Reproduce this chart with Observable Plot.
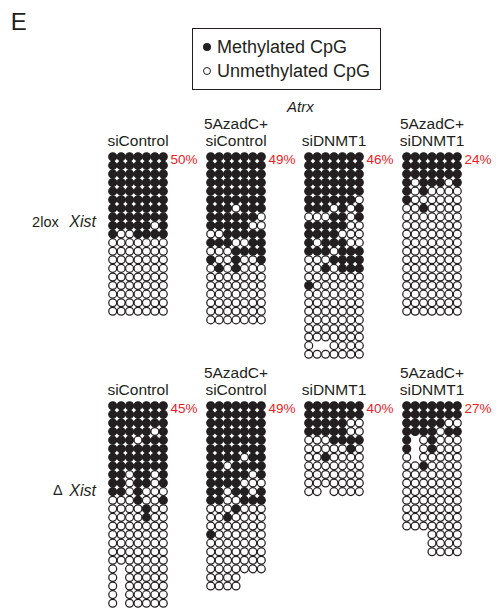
<!DOCTYPE html>
<html><head><meta charset="utf-8">
<script src="https://cdn.jsdelivr.net/npm/d3@7"></script>
<script src="https://cdn.jsdelivr.net/npm/@observablehq/plot@0.6"></script>
<style>
body{margin:0;background:#fff;font-family:"Liberation Sans",Arial,sans-serif;color:#231f20}
#fig{position:relative;width:501px;height:609px;overflow:hidden}
#head{position:relative;height:100px}
#chart svg{display:block}
.abs{position:absolute;white-space:nowrap}
#E{left:10.8px;top:10.4px;font-size:24px;line-height:24px}
#legend{left:192px;top:28px;width:189px;height:62px;border:1px solid #231f20;box-sizing:border-box}
.lg{position:absolute;left:24px;font-size:18px;line-height:18px}
.bul{position:absolute;left:10px;width:8px;height:8px;border-radius:50%;box-sizing:border-box}
#atrx{left:287px;top:99px;font-size:15px;line-height:15px;font-style:italic;z-index:2}
</style></head>
<body>
<div id="fig">
  <div id="head">
    <div id="E" class="abs">E</div>
    <div id="legend" class="abs">
      <div class="bul" style="top:13.7px;background:#231f20"></div>
      <div class="lg" style="top:8.9px">Methylated CpG</div>
      <div class="bul" style="top:38px;border:1px solid #231f20;background:#fff"></div>
      <div class="lg" style="top:33.3px">Unmethylated CpG</div>
    </div>
    <div id="atrx" class="abs">Atrx</div>
  </div>
  <div id="chart"></div>
</div>
<script>
// ---- data ----
const conditions = ["siControl", "5AzadC+\nsiControl", "siDNMT1", "5AzadC+\nsiDNMT1"];
const genotypes = ["2lox Xist", "Δ Xist"];
const rowLabelPrefix = ["2lox", "Δ"];
const rowLabelGene = "Xist";
const percents2lox = ["50%", "49%", "46%", "24%"];
const percentsDelta = ["45%", "49%", "40%", "27%"];

// 1 = methylated CpG, 0 = unmethylated CpG, - = no data
const lox_siControl = [
  "1111111","1111111","1111111","1111111","1111111","1111111","1111111","1111111",
  "1111101","1001111",
  "0000000","0000000","0000000","0000000","0000000","0000000","0000000","0000000","0000000"
];
const lox_aza_siControl = [
  "1111111","1111111","1111111","1111111","1111111","1111111",
  "1110111","1111110","1111100","0011111","1110011","0001111","1001001","0101000",
  "0000000","0000000","0000000","0000000","0000000","0000000"
];
const lox_siDNMT1 = [
  "1111111","1111111","1111111","1111111","1111111",
  "1111110","1110101","0001101","1111100","1111000","1011100","1110111","0001111","0010111",
  "0000000","1000000",
  "0000000","0000000","0000000","0000000","0000000","0000000","0--0000","0000000"
];
const lox_aza_siDNMT1 = [
  "1111111","1111111","1111111",
  "1011101","1010000","1000000","0010000",
  "0000000","0000000","0000000","0000000","0000000","0000000","0000000","0000000",
  "0000000","0000000","0000000","0000000"
];
const del_siControl = [
  "1111111","1111111","1111111","1111101","1110111","1111111","1111111","1111111",
  "1101101","1101101","1101000","0001001","0000100","0000100",
  "0000000","0000000","0000000","0000000","0000000",
  "0-00000","0-00000","0-00000","0-00000","0-00000"
];
const del_aza_siControl = [
  "1111111","1111111","1111111","1111111","1111111","1111111",
  "1111011","1101111","1111101","1111000","1101101","1100111","0001000","0010000",
  "0000000","1000000","0000000","0000000","0000000","0000000",
  "0000---","0000---"
];
const del_siDNMT1 = [
  "1111111","1111111","1111100","1111100","0001111","0000010","0010000",
  "0000000","0000000","0000000","00-0000"
];
const del_aza_siDNMT1 = [
  "1111111","1111111","1111100","1111011","1-01000","1-01000","0-00000","0010000",
  "0000000","0000000","0000000","0000000","0000000","0000000","0000000",
  "---0000","---0000","---0000"
];

const panels = [
  [lox_siControl, lox_aza_siControl, lox_siDNMT1, lox_aza_siDNMT1],
  [del_siControl, del_aza_siControl, del_siDNMT1, del_aza_siDNMT1]
];
const percents = [percents2lox, percentsDelta];

// ---- tables ----
const cells = [];
panels.forEach((row, gi) => row.forEach((rows, ci) => rows.forEach((s, ri) => {
  [...s].forEach((ch, k) => {
    if (ch === "-") return;
    cells.push({geno: genotypes[gi], cond: conditions[ci], row: ri + 1, col: k + 1, m: ch === "1"});
  });
})));
const panelInfo = [];
genotypes.forEach((g, gi) => conditions.forEach((c, ci) => panelInfo.push({geno: g, cond: c, pct: percents[gi][ci]})));
const rowLabels = genotypes.map((g, i) => ({geno: g, cond: conditions[0], pre: rowLabelPrefix[i], gene: rowLabelGene, i}));

const ink = "#231f20";
const red = "#ed1c24";
const labelY = d => d.i === 0 ? 8.6 : 10.9;

const chart = Plot.plot({
  width: 501, height: 509,
  marginLeft: 107.5, marginRight: 38.5, marginTop: 51.7, marginBottom: 1.6,
  x: {domain: [0.5, 7.5], axis: null},
  y: {domain: [0.5, 24.5], reverse: true, axis: null},
  fx: {domain: conditions, paddingInner: 0.396, paddingOuter: 0, axis: null},
  fy: {domain: genotypes, paddingInner: 0.172, paddingOuter: 0, axis: null},
  style: {fontFamily: "'Liberation Sans', Arial, sans-serif", color: ink, background: "white"},
  marks: [
    Plot.dot(cells.filter(d => !d.m), {fx: "cond", fy: "geno", x: "col", y: "row", r: 3.95, fill: "white", stroke: ink, strokeWidth: 1.25}),
    Plot.dot(cells.filter(d => d.m), {fx: "cond", fy: "geno", x: "col", y: "row", r: 3.95, fill: ink, stroke: ink, strokeWidth: 1.25}),
    Plot.text(panelInfo, {fx: "cond", fy: "geno", text: "cond", frameAnchor: "top", lineAnchor: "bottom", dy: -6.5, fontSize: 15.5, lineHeight: 1.12, fill: ink}),
    Plot.text(panelInfo, {fx: "cond", fy: "geno", text: "pct", frameAnchor: "top-right", textAnchor: "start", lineAnchor: "middle", dx: 3, dy: 6.8, fontSize: 13.5, fill: red}),
    Plot.text(rowLabels, {fx: "cond", fy: "geno", y: labelY, text: "pre", frameAnchor: "left", textAnchor: "end", dx: -49.8, fontSize: 14.5, fill: ink, filter: d => d.i === 0}),
    Plot.text(rowLabels, {fx: "cond", fy: "geno", y: labelY, text: "pre", frameAnchor: "left", textAnchor: "end", dx: -45.8, fontSize: 14.5, fill: ink, filter: d => d.i === 1}),
    Plot.text(rowLabels, {fx: "cond", fy: "geno", y: labelY, text: "gene", frameAnchor: "left", textAnchor: "end", dx: -12.5, fontSize: 16, fontStyle: "italic", fill: ink})
  ]
});
document.getElementById("chart").appendChild(chart);
</script>
</body></html>
